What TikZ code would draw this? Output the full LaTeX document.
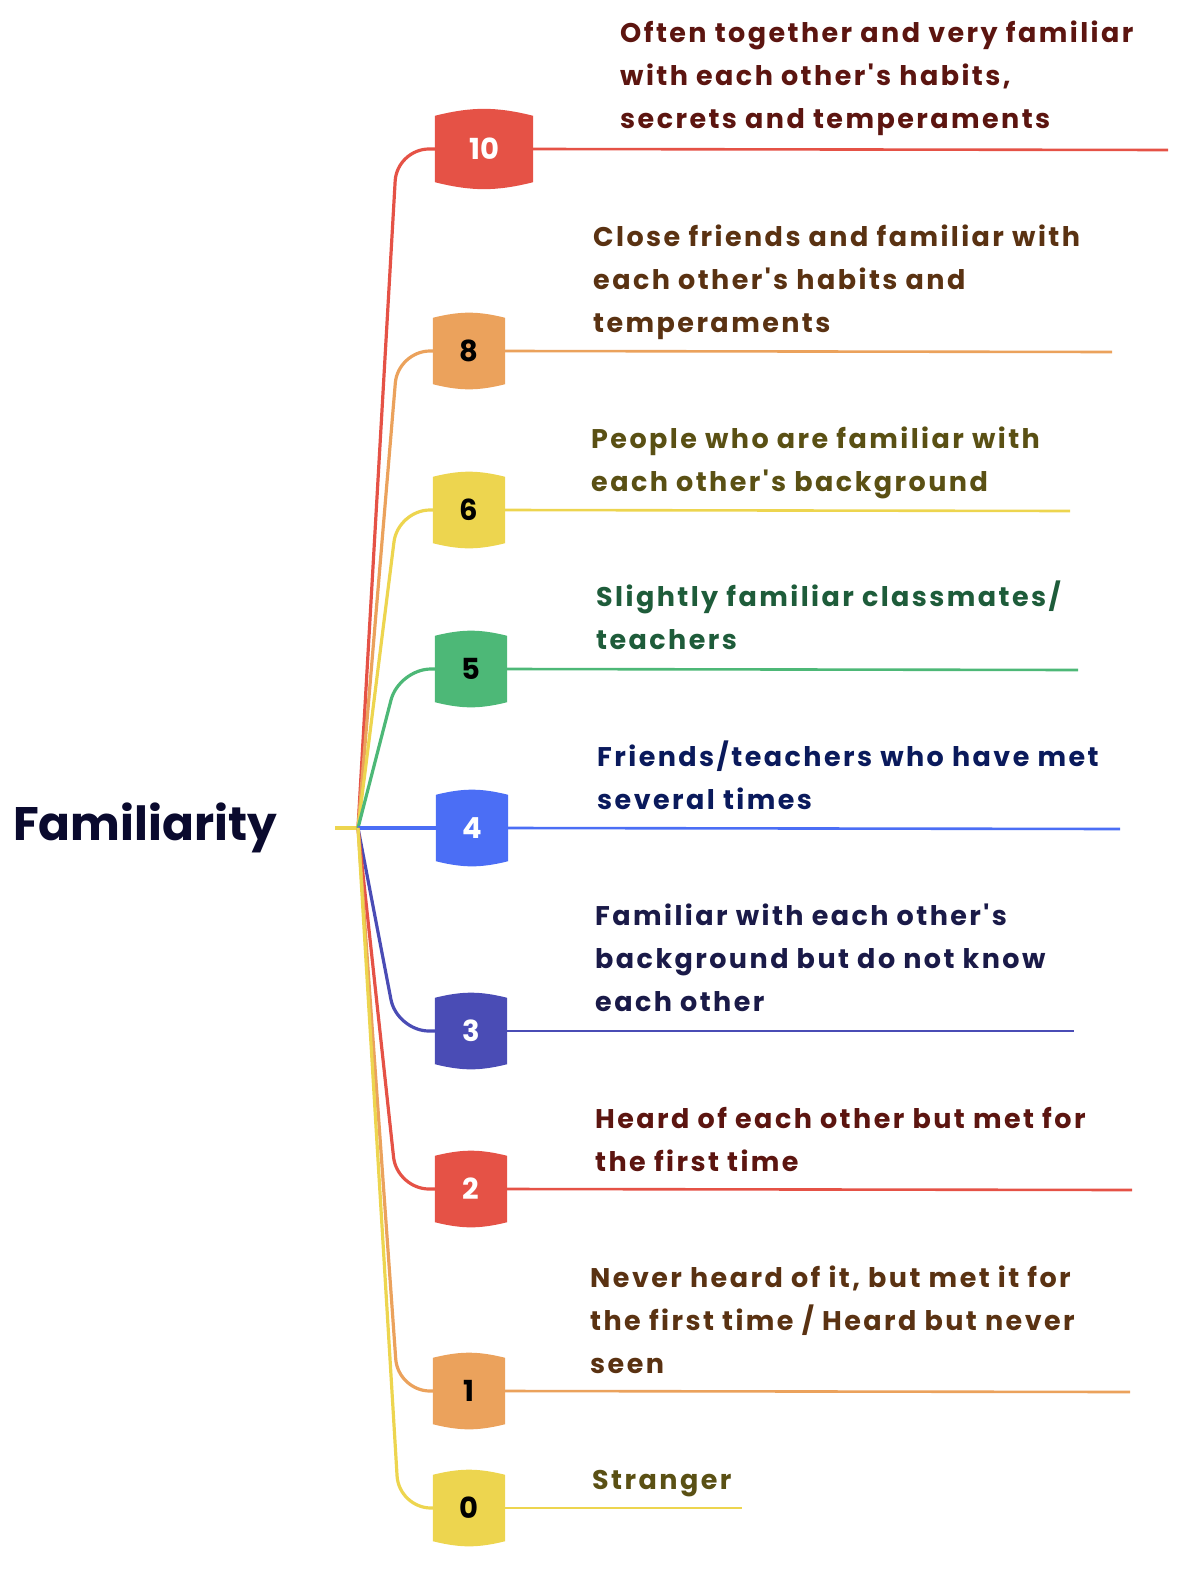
\documentclass[tikz,border=0pt]{standalone}
\usepackage{fontspec}
\setmainfont{Poppins}
\newfontfamily\descfont{Poppins}[LetterSpace=9]
\usetikzlibrary{backgrounds}

\definecolor{redc}{HTML}{E55246}
\definecolor{orangec}{HTML}{EBA25C}
\definecolor{yellowc}{HTML}{EDD54F}
\definecolor{greenc}{HTML}{4DB877}
\definecolor{bluec}{HTML}{4B6EF5}
\definecolor{indigoc}{HTML}{4A4CB5}
\definecolor{redtxt}{HTML}{5C1510}
\definecolor{orangetxt}{HTML}{5A3212}
\definecolor{yellowtxt}{HTML}{5A5014}
\definecolor{greentxt}{HTML}{1E5C3A}
\definecolor{bluetxt}{HTML}{0A1A5C}
\definecolor{indigotxt}{HTML}{1A1A48}
\definecolor{roottxt}{HTML}{0A0A2E}

\begin{document}
\begin{tikzpicture}[x=1pt,y=-1pt,
    numbox/.style={minimum width=72pt,minimum height=66pt,inner sep=0pt,
        font=\fontsize{29}{29}\selectfont\bfseries},
    desc/.style={anchor=base west,align=left,inner sep=0pt,
        font=\descfont\fontsize{27}{43}\selectfont\bfseries},
    branch/.style={line width=3.2pt,rounded corners=32pt},
    uline/.style={line width=2.6pt}]
    \useasboundingbox (0,0) rectangle (1178,1570);

    % root and hub
    \node[font=\fontsize{47}{47}\selectfont\bfseries,text=roottxt] (root) at (145,828) {Familiarity};
    \coordinate (stub) at (335,828);
    \coordinate (hub) at (358,828);

    % number boxes
    \node[numbox,minimum width=98pt,text=white] (n10) at (484,149) {10};
    \node[numbox,text=black] (n8) at (469,351) {8};
    \node[numbox,text=black] (n6) at (469,510) {6};
    \node[numbox,text=black] (n5) at (471,669) {5};
    \node[numbox,text=white] (n4) at (472,828) {4};
    \node[numbox,text=white] (n3) at (471,1031) {3};
    \node[numbox,text=white] (n2) at (471,1189) {2};
    \node[numbox,text=black] (n1) at (469,1391) {1};
    \node[numbox,text=black] (n0) at (469,1508) {0};

    \begin{scope}[on background layer]
        \foreach \n/\c in {n10/redc,n8/orangec,n6/yellowc,n5/greenc,n4/bluec,n3/indigoc,n2/redc,n1/orangec,n0/yellowc}
            \fill[\c] (\n.north west) to[bend left=14] (\n.north east) -- (\n.south east)
                to[bend left=14] (\n.south west) -- cycle;
    \end{scope}

    % descriptions (anchored at the baseline of their last line)
    \node[desc,text=redtxt] (t10) at (620,129) {Often together and very familiar\\with each other's habits,\\secrets and temperaments};
    \node[desc,text=orangetxt] (t8) at (593,332) {Close friends and familiar with\\each other's habits and\\temperaments};
    \node[desc,text=yellowtxt] (t6) at (591,491) {People who are familiar with\\each other's background};
    \node[desc,text=greentxt] (t5) at (596,649) {Slightly familiar classmates/\\teachers};
    \node[desc,text=bluetxt] (t4) at (597,809) {Friends/teachers who have met\\several times};
    \node[desc,text=indigotxt] (t3) at (595,1011) {Familiar with each other's\\background but do not know\\each other};
    \node[desc,text=redtxt] (t2) at (595,1171) {Heard of each other but met for\\the first time};
    \node[desc,text=orangetxt] (t1) at (590,1373) {Never heard of it, but met it for\\the first time / Heard but never\\seen};
    \node[desc,text=yellowtxt] (t0) at (592,1489) {Stranger};

    % ends of the underlines
    \coordinate (e10) at (1168,150);
    \coordinate (e8) at (1112,352);
    \coordinate (e6) at (1070,511);
    \coordinate (e5) at (1078,670);
    \coordinate (e4) at (1120,829);
    \coordinate (e3) at (1074,1031);
    \coordinate (e2) at (1132,1190);
    \coordinate (e1) at (1130,1392);
    \coordinate (e0) at (742,1508);

    % branches
    \draw[line width=3.2pt,yellowc] (stub) -- (hub);
    \draw[branch,redc] (hub) -- (397,149) -- (n10.west);
    \draw[branch,orangec] (hub) -- (398,351) -- (n8.west);
    \draw[branch,yellowc] (hub) -- (398,510) -- (n6.west);
    \draw[branch,greenc] (hub) -- (399,669) -- (n5.west);
    \draw[branch,bluec] (hub) -- (n4.west);
    \draw[branch,indigoc] (hub) -- (397,1031) -- (n3.west);
    \draw[branch,redc] (hub) -- (397,1189) -- (n2.west);
    \draw[branch,orangec] (hub) -- (398,1391) -- (n1.west);
    \draw[branch,yellowc] (hub) -- (399,1508) -- (n0.west);

    % underlines
    \draw[uline,redc] (n10.east) -- (e10);
    \draw[uline,orangec] (n8.east) -- (e8);
    \draw[uline,yellowc] (n6.east) -- (e6);
    \draw[uline,greenc] (n5.east) -- (e5);
    \draw[uline,bluec] (n4.east) -- (e4);
    \draw[uline,indigoc] (n3.east) -- (e3);
    \draw[uline,redc] (n2.east) -- (e2);
    \draw[uline,orangec] (n1.east) -- (e1);
    \draw[uline,yellowc] (n0.east) -- (e0);
\end{tikzpicture}
\end{document}
